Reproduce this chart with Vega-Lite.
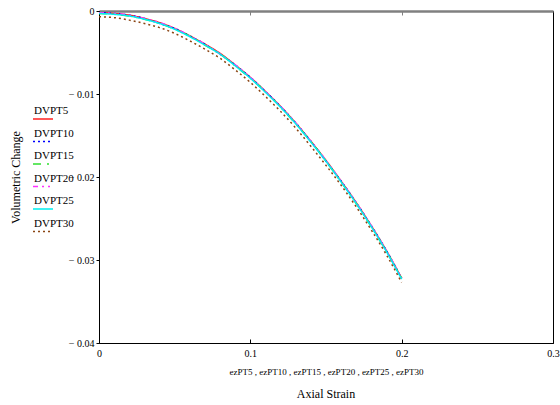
{
  "$schema": "https://vega.github.io/schema/vega-lite/v6.json",
  "width": 454,
  "height": 332,
  "autosize": "none",
  "padding": {"left": 99, "top": 11, "right": 7, "bottom": 62},
  "background": "white",
  "config": {
    "font": "Liberation Serif",
    "view": {"stroke": "black", "strokeWidth": 1},
    "axis": {"grid": false, "labelFont": "Liberation Serif", "titleFont": "Liberation Serif", "labelColor": "black", "titleColor": "black", "titleFontWeight": "normal", "domainColor": "black", "tickColor": "black"}
  },
  "title": {"text": "Axial Strain", "orient": "bottom", "fontSize": 12, "fontWeight": "normal", "font": "Liberation Serif", "color": "black", "offset": 13},
  "data": {
    "values": [
      {"series": "DVPT5", "strain": 0.00, "dv": -0.0002},
      {"series": "DVPT5", "strain": 0.01, "dv": -0.0003},
      {"series": "DVPT5", "strain": 0.02, "dv": -0.0005},
      {"series": "DVPT5", "strain": 0.03, "dv": -0.0009},
      {"series": "DVPT5", "strain": 0.04, "dv": -0.0014},
      {"series": "DVPT5", "strain": 0.05, "dv": -0.0021},
      {"series": "DVPT5", "strain": 0.06, "dv": -0.0030},
      {"series": "DVPT5", "strain": 0.07, "dv": -0.0040},
      {"series": "DVPT5", "strain": 0.08, "dv": -0.0051},
      {"series": "DVPT5", "strain": 0.09, "dv": -0.0065},
      {"series": "DVPT5", "strain": 0.10, "dv": -0.0080},
      {"series": "DVPT5", "strain": 0.11, "dv": -0.0097},
      {"series": "DVPT5", "strain": 0.12, "dv": -0.0115},
      {"series": "DVPT5", "strain": 0.13, "dv": -0.0135},
      {"series": "DVPT5", "strain": 0.14, "dv": -0.0157},
      {"series": "DVPT5", "strain": 0.15, "dv": -0.0180},
      {"series": "DVPT5", "strain": 0.16, "dv": -0.0205},
      {"series": "DVPT5", "strain": 0.17, "dv": -0.0231},
      {"series": "DVPT5", "strain": 0.18, "dv": -0.0259},
      {"series": "DVPT5", "strain": 0.19, "dv": -0.0289},
      {"series": "DVPT5", "strain": 0.20, "dv": -0.0322},
      {"series": "DVPT10", "strain": 0.00, "dv": -0.0002},
      {"series": "DVPT10", "strain": 0.01, "dv": -0.0003},
      {"series": "DVPT10", "strain": 0.02, "dv": -0.0005},
      {"series": "DVPT10", "strain": 0.03, "dv": -0.0009},
      {"series": "DVPT10", "strain": 0.04, "dv": -0.0015},
      {"series": "DVPT10", "strain": 0.05, "dv": -0.0021},
      {"series": "DVPT10", "strain": 0.06, "dv": -0.0030},
      {"series": "DVPT10", "strain": 0.07, "dv": -0.0040},
      {"series": "DVPT10", "strain": 0.08, "dv": -0.0052},
      {"series": "DVPT10", "strain": 0.09, "dv": -0.0065},
      {"series": "DVPT10", "strain": 0.10, "dv": -0.0080},
      {"series": "DVPT10", "strain": 0.11, "dv": -0.0097},
      {"series": "DVPT10", "strain": 0.12, "dv": -0.0115},
      {"series": "DVPT10", "strain": 0.13, "dv": -0.0135},
      {"series": "DVPT10", "strain": 0.14, "dv": -0.0157},
      {"series": "DVPT10", "strain": 0.15, "dv": -0.0181},
      {"series": "DVPT10", "strain": 0.16, "dv": -0.0205},
      {"series": "DVPT10", "strain": 0.17, "dv": -0.0231},
      {"series": "DVPT10", "strain": 0.18, "dv": -0.0259},
      {"series": "DVPT10", "strain": 0.19, "dv": -0.0289},
      {"series": "DVPT10", "strain": 0.20, "dv": -0.0322},
      {"series": "DVPT15", "strain": 0.00, "dv": -0.0003},
      {"series": "DVPT15", "strain": 0.01, "dv": -0.0004},
      {"series": "DVPT15", "strain": 0.02, "dv": -0.0006},
      {"series": "DVPT15", "strain": 0.03, "dv": -0.0010},
      {"series": "DVPT15", "strain": 0.04, "dv": -0.0015},
      {"series": "DVPT15", "strain": 0.05, "dv": -0.0022},
      {"series": "DVPT15", "strain": 0.06, "dv": -0.0030},
      {"series": "DVPT15", "strain": 0.07, "dv": -0.0041},
      {"series": "DVPT15", "strain": 0.08, "dv": -0.0052},
      {"series": "DVPT15", "strain": 0.09, "dv": -0.0066},
      {"series": "DVPT15", "strain": 0.10, "dv": -0.0081},
      {"series": "DVPT15", "strain": 0.11, "dv": -0.0097},
      {"series": "DVPT15", "strain": 0.12, "dv": -0.0116},
      {"series": "DVPT15", "strain": 0.13, "dv": -0.0136},
      {"series": "DVPT15", "strain": 0.14, "dv": -0.0157},
      {"series": "DVPT15", "strain": 0.15, "dv": -0.0181},
      {"series": "DVPT15", "strain": 0.16, "dv": -0.0206},
      {"series": "DVPT15", "strain": 0.17, "dv": -0.0232},
      {"series": "DVPT15", "strain": 0.18, "dv": -0.0260},
      {"series": "DVPT15", "strain": 0.19, "dv": -0.0290},
      {"series": "DVPT15", "strain": 0.20, "dv": -0.0322},
      {"series": "DVPT20", "strain": 0.00, "dv": -0.0002},
      {"series": "DVPT20", "strain": 0.01, "dv": -0.0003},
      {"series": "DVPT20", "strain": 0.02, "dv": -0.0005},
      {"series": "DVPT20", "strain": 0.03, "dv": -0.0009},
      {"series": "DVPT20", "strain": 0.04, "dv": -0.0014},
      {"series": "DVPT20", "strain": 0.05, "dv": -0.0021},
      {"series": "DVPT20", "strain": 0.06, "dv": -0.0030},
      {"series": "DVPT20", "strain": 0.07, "dv": -0.0040},
      {"series": "DVPT20", "strain": 0.08, "dv": -0.0052},
      {"series": "DVPT20", "strain": 0.09, "dv": -0.0065},
      {"series": "DVPT20", "strain": 0.10, "dv": -0.0080},
      {"series": "DVPT20", "strain": 0.11, "dv": -0.0097},
      {"series": "DVPT20", "strain": 0.12, "dv": -0.0115},
      {"series": "DVPT20", "strain": 0.13, "dv": -0.0135},
      {"series": "DVPT20", "strain": 0.14, "dv": -0.0157},
      {"series": "DVPT20", "strain": 0.15, "dv": -0.0180},
      {"series": "DVPT20", "strain": 0.16, "dv": -0.0205},
      {"series": "DVPT20", "strain": 0.17, "dv": -0.0231},
      {"series": "DVPT20", "strain": 0.18, "dv": -0.0259},
      {"series": "DVPT20", "strain": 0.19, "dv": -0.0289},
      {"series": "DVPT20", "strain": 0.20, "dv": -0.0322},
      {"series": "DVPT25", "strain": 0.00, "dv": -0.0003},
      {"series": "DVPT25", "strain": 0.01, "dv": -0.0004},
      {"series": "DVPT25", "strain": 0.02, "dv": -0.0006},
      {"series": "DVPT25", "strain": 0.03, "dv": -0.0010},
      {"series": "DVPT25", "strain": 0.04, "dv": -0.0015},
      {"series": "DVPT25", "strain": 0.05, "dv": -0.0022},
      {"series": "DVPT25", "strain": 0.06, "dv": -0.0031},
      {"series": "DVPT25", "strain": 0.07, "dv": -0.0041},
      {"series": "DVPT25", "strain": 0.08, "dv": -0.0052},
      {"series": "DVPT25", "strain": 0.09, "dv": -0.0066},
      {"series": "DVPT25", "strain": 0.10, "dv": -0.0081},
      {"series": "DVPT25", "strain": 0.11, "dv": -0.0098},
      {"series": "DVPT25", "strain": 0.12, "dv": -0.0116},
      {"series": "DVPT25", "strain": 0.13, "dv": -0.0136},
      {"series": "DVPT25", "strain": 0.14, "dv": -0.0158},
      {"series": "DVPT25", "strain": 0.15, "dv": -0.0181},
      {"series": "DVPT25", "strain": 0.16, "dv": -0.0206},
      {"series": "DVPT25", "strain": 0.17, "dv": -0.0232},
      {"series": "DVPT25", "strain": 0.18, "dv": -0.0260},
      {"series": "DVPT25", "strain": 0.19, "dv": -0.0290},
      {"series": "DVPT25", "strain": 0.20, "dv": -0.0323},
      {"series": "DVPT30", "strain": 0.00, "dv": -0.0007},
      {"series": "DVPT30", "strain": 0.01, "dv": -0.0008},
      {"series": "DVPT30", "strain": 0.02, "dv": -0.0011},
      {"series": "DVPT30", "strain": 0.03, "dv": -0.0015},
      {"series": "DVPT30", "strain": 0.04, "dv": -0.0020},
      {"series": "DVPT30", "strain": 0.05, "dv": -0.0027},
      {"series": "DVPT30", "strain": 0.06, "dv": -0.0036},
      {"series": "DVPT30", "strain": 0.07, "dv": -0.0046},
      {"series": "DVPT30", "strain": 0.08, "dv": -0.0057},
      {"series": "DVPT30", "strain": 0.09, "dv": -0.0071},
      {"series": "DVPT30", "strain": 0.10, "dv": -0.0086},
      {"series": "DVPT30", "strain": 0.11, "dv": -0.0103},
      {"series": "DVPT30", "strain": 0.12, "dv": -0.0121},
      {"series": "DVPT30", "strain": 0.13, "dv": -0.0141},
      {"series": "DVPT30", "strain": 0.14, "dv": -0.0163},
      {"series": "DVPT30", "strain": 0.15, "dv": -0.0186},
      {"series": "DVPT30", "strain": 0.16, "dv": -0.0210},
      {"series": "DVPT30", "strain": 0.17, "dv": -0.0236},
      {"series": "DVPT30", "strain": 0.18, "dv": -0.0264},
      {"series": "DVPT30", "strain": 0.19, "dv": -0.0294},
      {"series": "DVPT30", "strain": 0.20, "dv": -0.0327}
    ]
  },
  "layer": [
    {
      "mark": {"type": "line", "interpolate": "monotone", "strokeWidth": 1.5, "clip": true},
      "encoding": {
        "x": {
          "field": "strain", "type": "quantitative",
          "scale": {"domain": [0, 0.3], "nice": false, "zero": false},
          "axis": {
            "orient": "bottom",
            "title": "ezPT5 , ezPT10 , ezPT15 , ezPT20 , ezPT25 , ezPT30",
            "titleFontSize": 9, "titleX": 227, "titleY": 28, "titleAlign": "center", "titleBaseline": "middle",
            "values": [0, 0.1, 0.2, 0.3],
            "labelExpr": "datum.value == 0 ? '0' : format(datum.value, '.1f')",
            "labelFontSize": 10, "labelFlush": false, "tickSize": -4, "labelPadding": 9
          }
        },
        "y": {
          "field": "dv", "type": "quantitative",
          "scale": {"domain": [-0.04, 0], "nice": false, "zero": false},
          "axis": {
            "orient": "left",
            "title": "Volumetric Change",
            "titleFontSize": 12, "titleX": -84, "titleY": 166, "titleAngle": -90, "titleAlign": "center", "titleBaseline": "middle",
            "values": [-0.04, -0.03, -0.02, -0.01, 0],
            "labelExpr": "datum.value == 0 ? '0' : '\u2212 ' + format(abs(datum.value), '.2f')",
            "labelFontSize": 10, "tickSize": 3, "labelPadding": 2, "labelFlush": false
          }
        },
        "color": {
          "field": "series", "type": "nominal",
          "scale": {"domain": ["DVPT5", "DVPT10", "DVPT15", "DVPT20", "DVPT25", "DVPT30"], "range": ["#ff2020", "#0000ff", "#30e030", "#ff30ff", "#00f0f0", "#8b4513"]},
          "legend": {
            "orient": "none", "legendX": -67, "legendY": 94, "title": null,
            "symbolType": "M-1,0.3L1,0.3", "symbolSize": 400, "symbolStrokeWidth": 1.5, "symbolFillColor": "transparent",
            "labelFont": "Liberation Serif", "labelFontSize": 11, "labelColor": "black",
            "labelOffset": -20, "labelBaseline": "bottom", "rowPadding": 5.5
          }
        },
        "strokeDash": {
          "field": "series", "type": "nominal",
          "scale": {"domain": ["DVPT5", "DVPT10", "DVPT15", "DVPT20", "DVPT25", "DVPT30"], "range": [[1, 0], [2, 3], [8, 6, 2, 6], [5, 4, 2, 4, 2, 4], [1, 0], [2, 3]]}
        }
      }
    },
    {
      "mark": {"type": "point", "opacity": 0},
      "encoding": {
        "x": {
          "field": "strain", "type": "quantitative",
          "axis": {"orient": "top", "title": null, "labels": false, "values": [0.1, 0.2], "domainColor": "#808080", "domainWidth": 2.5, "tickColor": "#808080", "tickSize": -4}
        },
        "y": {
          "field": "dv", "type": "quantitative",
          "axis": {
            "orient": "left",
            "title": "Volumetric Change",
            "titleFontSize": 12, "titleX": -84, "titleY": 166, "titleAngle": -90, "titleAlign": "center", "titleBaseline": "middle",
            "values": [-0.04, -0.03, -0.02, -0.01, 0],
            "labelExpr": "datum.value == 0 ? '0' : '\u2212 ' + format(abs(datum.value), '.2f')",
            "labelFontSize": 10, "tickSize": 3, "labelPadding": 2, "labelFlush": false
          }
        }
      }
    }
  ]
}
